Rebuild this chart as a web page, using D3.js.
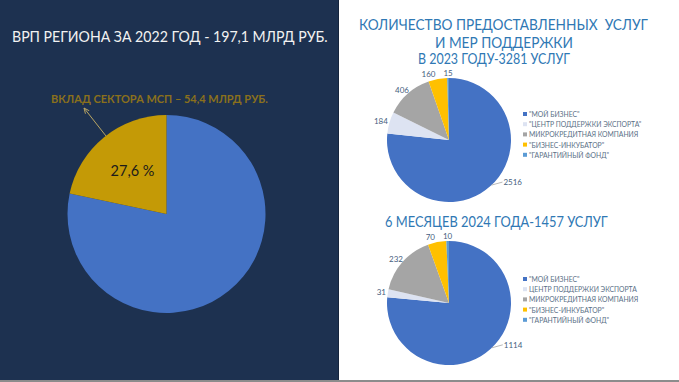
<!DOCTYPE html>
<html>
<head>
<meta charset="utf-8">
<script src="https://cdn.jsdelivr.net/npm/d3@7"></script>
<style>
  html, body { margin: 0; padding: 0; background: #fff; }
  svg { display: block; font-family: Lato, "Open Sans", sans-serif; }
  text { white-space: pre; }
</style>
</head>
<body>
<svg id="chart" width="679" height="382"></svg>
<script>
// left chart: GRP of region, 2022
const grpTitle = 'ВРП РЕГИОНА ЗА 2022 ГОД - 197,1 МЛРД РУБ.';
const grpNote = 'ВКЛАД СЕКТОРА МСП – 54,4 МЛРД РУБ.';
const grpLabel = '27,6 %';
const grpParts = ['Прочее', 'МСП'];
const grpValues = [78.3, 21.7]; // slice sizes as drawn in the picture

// right charts: services
const svcCategories = ['"МОЙ БИЗНЕС"', '"ЦЕНТР ПОДДЕРЖКИ ЭКСПОРТА"', 'МИКРОКРЕДИТНАЯ КОМПАНИЯ', '"БИЗНЕС-ИНКУБАТОР"', '"ГАРАНТИЙНЫЙ ФОНД"'];
const svcCategories2024 = ['"МОЙ БИЗНЕС"', 'ЦЕНТР ПОДДЕРЖКИ ЭКСПОРТА', 'МИКРОКРЕДИТНАЯ КОМПАНИЯ', '"БИЗНЕС-ИНКУБАТОР"', '"ГАРАНТИЙНЫЙ ФОНД"'];
const svc2023 = [2516, 184, 406, 160, 15];
const svc2024 = [1114, 31, 232, 70, 10];
const svcTitle = ['КОЛИЧЕСТВО ПРЕДОСТАВЛЕННЫХ  УСЛУГ', 'И МЕР ПОДДЕРЖКИ', 'В 2023 ГОДУ-3281 УСЛУГ'];
const svcTitle2024 = '6 МЕСЯЦЕВ 2024 ГОДА-1457 УСЛУГ';

const svcColors = ['#4472c4', '#dde3f2', '#a5a5a5', '#ffc000', '#5b9bd5'];
const titleBlue = '#2f78b4';
const labelColor = '#46607e';

const svg = d3.select('#chart');

// text squeezed horizontally to a measured span (the original font is narrower)
function fittedText(t, x, y, w, size, color, weight) {
  const el = svg.append('text')
    .attr('fill', color).attr('font-size', size).attr('font-weight', weight || 'normal')
    .text(t);
  const k = w / el.node().getComputedTextLength();
  el.attr('transform', 'translate(' + x + ',' + y + ') scale(' + k + ',1)');
  return el;
}

// ---- left panel
svg.append('rect').attr('x', 0).attr('y', 0).attr('width', 339).attr('height', 380).attr('fill', '#1d3150');
svg.append('line').attr('x1', 338.5).attr('x2', 338.5).attr('y1', 0).attr('y2', 380).attr('stroke', '#15243c');
svg.append('rect').attr('x', 0).attr('y', 380).attr('width', 679).attr('height', 2).attr('fill', '#8c8c8c');

fittedText(grpTitle, 12, 42, 316, 16, '#f2f2f2');

const leftPie = d3.pie().sort(null).value(d => d)(grpValues);
const leftArc = d3.arc().innerRadius(0).outerRadius(99);
const gl = svg.append('g').attr('transform', 'translate(166.5,214)');
gl.selectAll('path').data(leftPie).enter().append('path')
  .attr('d', leftArc)
  .attr('fill', (d, i) => ['#4472c4', '#c49a06'][i]);

gl.append('text').attr('x', -34).attr('y', -44).attr('text-anchor', 'middle')
  .attr('dominant-baseline', 'central')
  .attr('font-size', 14.5).attr('fill', '#1b1b1b').text(grpLabel);

// note + arrow
svg.append('defs').append('marker').attr('id', 'ah')
  .attr('viewBox', '0 0 10 10').attr('refX', 9).attr('refY', 5)
  .attr('markerWidth', 6).attr('markerHeight', 6).attr('orient', 'auto')
  .append('path').attr('d', 'M0,1 L9,5 L0,9').attr('fill', 'none').attr('stroke', '#b9a563').attr('stroke-width', 1.5);
svg.append('line').attr('x1', 106).attr('y1', 136).attr('x2', 84).attr('y2', 108)
  .attr('stroke', '#b9a563').attr('stroke-width', 1).attr('marker-end', 'url(#ah)');
fittedText(grpNote, 51, 103, 217, 11, '#8a701c', 'bold');

// ---- right panel titles
fittedText(svcTitle[0], 359, 30, 289, 16, titleBlue);
fittedText(svcTitle[1], 435, 48, 138, 16, titleBlue);
fittedText(svcTitle[2], 418, 64, 152, 14.5, titleBlue);
fittedText(svcTitle2024, 385, 227, 223, 16, titleBlue);

function servicePie(values, cats, cx, cy, legendY) {
  const r = 62;
  const pie = d3.pie().sort(null).value(d => d)(values);
  const arc = d3.arc().innerRadius(0).outerRadius(r);
  const g = svg.append('g').attr('transform', 'translate(' + cx + ',' + cy + ')');
  g.selectAll('path').data(pie).enter().append('path')
    .attr('d', arc)
    .attr('fill', (d, i) => svcColors[i]);

  // big slice: label with a leader line
  const big = pie[0];
  const bm = (big.startAngle + big.endAngle) / 2;
  const ex = Math.sin(bm) * r, ey = -Math.cos(bm) * r;
  g.append('path')
    .attr('d', 'M' + (ex + 1) + ',' + (ey - 1) + 'L' + (ex + 12) + ',' + (ey - 4))
    .attr('stroke', '#a6a6a6').attr('fill', 'none').attr('stroke-width', 0.8);
  g.append('text').attr('x', ex + 13).attr('y', ey - 4)
    .attr('dominant-baseline', 'central')
    .attr('font-size', 8).attr('fill', labelColor).text(big.data);

  // small slices: outside-end labels, placed from the top slice backwards,
  // pushed left when they would collide with the one placed before
  let prevLeft = null, prevY = null;
  for (let i = pie.length - 1; i >= 1; i--) {
    const d = pie[i];
    const mid = (d.startAngle + d.endAngle) / 2;
    const hw = String(d.data).length * 2.3, hh = 4;
    let x = Math.sin(mid) * (r + 2 + hw);
    const y = -Math.cos(mid) * (r + 1 + hh);
    if (prevLeft !== null && Math.abs(y - prevY) < 9 && x + hw + 8 > prevLeft) x = prevLeft - hw - 8;
    g.append('text').attr('x', x).attr('y', y)
      .attr('text-anchor', 'middle').attr('dominant-baseline', 'central')
      .attr('font-size', 8).attr('fill', labelColor).text(d.data);
    prevLeft = x - hw; prevY = y;
  }

  const leg = svg.append('g').attr('transform', 'translate(523,' + legendY + ')');
  cats.forEach((c, i) => {
    leg.append('rect').attr('x', 0).attr('y', i * 10.2 - 2).attr('width', 4).attr('height', 4)
      .attr('fill', svcColors[i]);
    leg.append('text').attr('x', 6).attr('y', i * 10.2).attr('dominant-baseline', 'central')
      .attr('font-size', 6.8).attr('fill', '#5a6f86').text(c);
  });
}

servicePie(svc2023, svcCategories, 449, 140, 114);
servicePie(svc2024, svcCategories2024, 449, 303, 279);
</script>
</body>
</html>
